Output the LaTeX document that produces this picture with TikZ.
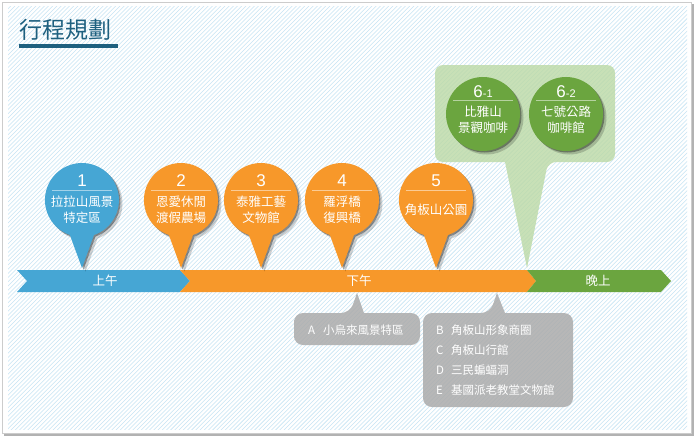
\documentclass[tikz,border=0pt]{standalone}
\usepackage{fontspec}
\setmainfont{Liberation Sans}
\newfontfamily\cjk{Noto Sans CJK TC}
\usepackage{tikz}
\usetikzlibrary{positioning, calc}
\definecolor{tripblue}{HTML}{46A6D4}
\definecolor{triporange}{HTML}{F7982A}
\definecolor{tripgreen}{HTML}{6BA53F}
\definecolor{tripleaf}{HTML}{BBD9A5}
\definecolor{tripgray}{HTML}{ABABAB}
\definecolor{triptitle}{HTML}{1E607F}
\definecolor{triphatch}{HTML}{C6E4F4}

\begin{document}
\begin{tikzpicture}[x=1pt, y=-1pt,
  pintext/.style={font=\cjk\fontsize{12.5}{16}\selectfont, text=white, align=center, inner sep=0pt},
  pinnum/.style={font=\fontsize{17}{17}\selectfont, text=white, inner sep=0pt},
  bandtext/.style={font=\cjk\fontsize{12.5}{14}\selectfont, text=white, inner sep=0pt},
  boxtext/.style={font=\cjk\fontsize{11.5}{20}\selectfont, text=white, align=left, inner sep=0pt, anchor=west},
  softshadow/.style={fill=black, opacity=0.18},
  hardshadow/.style={fill=black, opacity=0.35}]
\useasboundingbox (0,0) rectangle (696,440);
% frame and hatched paper
\fill[black!30] (4,4) rectangle (694,436);
\fill[white, draw=black!20] (2,2) rectangle (691,433);
\begin{scope}
  \clip (8,6) rectangle (687,429);
  \foreach \i in {0,4.2,...,1130} {
    \draw[triphatch, line width=0.55pt] (\i-440,440) -- (\i,0);
  }
\end{scope}

% title
\node[font=\cjk\fontsize{23}{23}\selectfont, text=triptitle, anchor=west, inner sep=0pt] (title) at (19,30) {行程規劃};
\fill[triptitle] (19,43.5) rectangle (118,47.5);

% time band
\fill[tripblue] (17,270) -- (180,270) -- (190,281) -- (180,292) -- (17,292) -- (27,281) -- cycle;
\fill[triporange] (180,270) -- (527,270) -- (536,281) -- (527,292) -- (180,292) -- (190,281) -- cycle;
\fill[tripgreen] (527,270) -- (661,270) -- (671,281) -- (661,292) -- (527,292) -- (536,281) -- cycle;
\node[bandtext] (morning) at (105,281) {上午};
\node[bandtext] (afternoon) at (359,281) {下午};
\node[bandtext] (evening) at (598,281) {晚上};

% pins
\foreach \x/\n/\t/\c in {82/1/{拉拉山風景\\特定區}/tripblue, 181/2/{恩愛休閒\\渡假農場}/triporange,
  261/3/{泰雅工藝\\文物館}/triporange, 342/4/{羅浮橋\\復興橋}/triporange, 436/5/{角板山公園}/triporange} {
  \fill[softshadow, shift={(3.5,3.5)}] (\x,268) -- (\x+12,235) arc[start angle=71, end angle=-251, radius=37] -- cycle;
  \fill[hardshadow, shift={(1.5,1.5)}] (\x,268) -- (\x+12,235) arc[start angle=71, end angle=-251, radius=37] -- cycle;
  \fill[\c] (\x,268) -- (\x+12,235) arc[start angle=71, end angle=-251, radius=37] -- cycle;
  \node[pinnum] (num\n) at (\x,181) {\n};
  \draw[white, opacity=0.5, line width=0.6pt] (\x-30,190) -- (\x+30,190);
  \node[pintext] (stop\n) at (\x,210) {\t};
}

% evening callout
\fill[tripleaf, opacity=0.8] (435,113) [rounded corners=8pt] -- (435,65) -- (615,65) -- (615,162) -- (548,162)
  [sharp corners] -- (527,268) -- (505,162) [rounded corners=8pt] -- (435,162) -- cycle;
\foreach \x/\n/\t in {483/1/{比雅山\\景觀咖啡}, 566/2/{七號公路\\咖啡館}} {
  \fill[softshadow] (\x+3.5,117.5) circle (37);
  \fill[hardshadow] (\x+1.5,115.5) circle (37);
  \fill[tripgreen] (\x,114) circle (37);
  \node[pinnum] (num6\n) at (\x,92) {6\fontsize{11}{11}\selectfont-\n};
  \draw[white, opacity=0.5, line width=0.6pt] (\x-30,100) -- (\x+30,100);
  \node[pintext] (stop6\n) at (\x,120) {\t};
}

% side trips
\fill[tripgray, opacity=0.85] (294,329) [rounded corners=9pt] -- (294,313) -- (350,313) [sharp corners] -- (357,293)
  -- (364,313) [rounded corners=9pt] -- (420,313) -- (420,345) -- (294,345) -- cycle;
\fill[tripgray, opacity=0.85] (423,360) [rounded corners=9pt] -- (423,313) -- (490,313) [sharp corners] -- (497,293)
  -- (505,313) [rounded corners=9pt] -- (573,313) -- (573,407) -- (423,407) -- cycle;
\node[boxtext] (sideA) at (308,330) {\makebox[15pt][l]{A}小烏來風景特區};
\node[boxtext] (sideB) at (436,360) {\makebox[15pt][l]{B}角板山形象商圈\\\makebox[15pt][l]{C}角板山行館\\
  \makebox[15pt][l]{D}三民蝙蝠洞\\\makebox[15pt][l]{E}基國派老教堂文物館};
\end{tikzpicture}
\end{document}
